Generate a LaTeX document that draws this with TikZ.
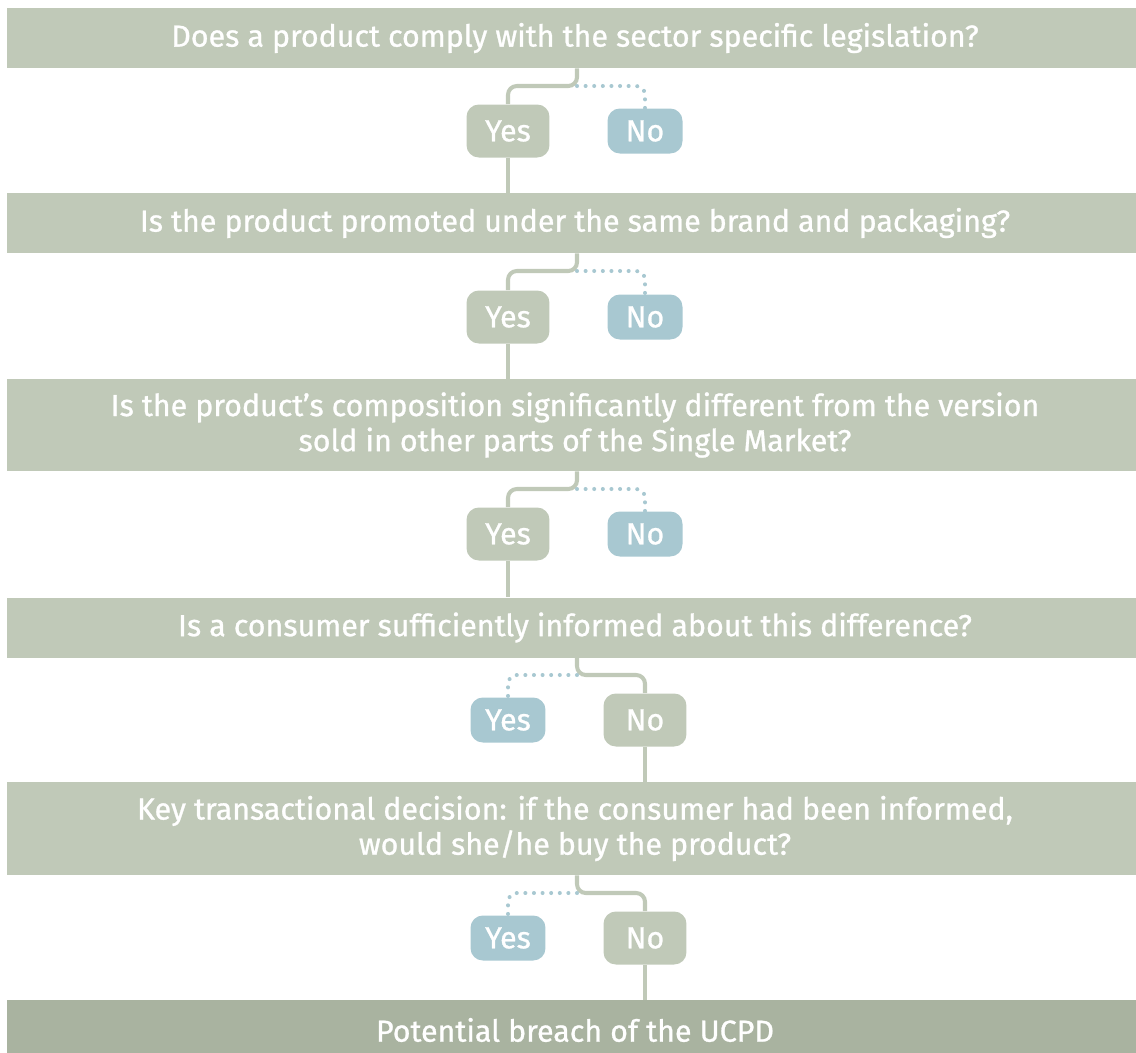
\documentclass[tikz,border=0pt]{standalone}
\usepackage{fontspec}
\setmainfont{Fira Sans}[FakeBold=0.9]
\usepackage{tikz}
\definecolor{sage}{HTML}{C0C9B8}
\definecolor{sagedark}{HTML}{A9B3A0}
\definecolor{mist}{HTML}{A8C8D1}

\begin{document}
\begin{tikzpicture}[x=0.02cm, y=-0.02cm,
    every node/.style={font=\fontsize{17.3}{20}\selectfont, text=white},
    bar/.style={fill=sage, minimum width=22.72cm, inner sep=0pt, align=center},
    pick/.style={fill=sage, rounded corners=7pt, minimum width=1.66cm, minimum height=1.06cm, inner sep=0pt},
    skip/.style={fill=mist, rounded corners=7pt, minimum width=1.5cm, minimum height=0.9cm, inner sep=0pt},
    solidline/.style={draw=sage, line width=2.3pt, rounded corners=5pt},
    dotline/.style={draw=mist, line width=2.3pt, line cap=round, dash pattern=on 0pt off 4.9pt, rounded corners=5pt}]
    \useasboundingbox (0,0) rectangle (1136,1052);

    % Questions - full width bars
    \node[bar, minimum height=1.2cm] (q1) at (575,38) {Does a product comply with the sector specific legislation?};
    \node[bar, minimum height=1.2cm] (q2) at (575,223) {Is the product promoted under the same brand and packaging?};
    \node[bar, minimum height=1.84cm] (q3) at (575,425) {Is the product’s composition significantly different from the version\\sold in other parts of the Single Market?};
    \node[bar, minimum height=1.2cm] (q4) at (575,627.5) {Is a consumer sufficiently informed about this difference?};
    \node[bar, minimum height=1.86cm] (q5) at (575,828.5) {Key transactional decision: if the consumer had been informed,\\would she/he buy the product?};
    \node[bar, fill=sagedark, minimum height=1.2cm] (res) at (575,1030) {Potential breach of the UCPD};

    % Answers - chosen answer green, other answer blue
    \node[pick] (y1) at (508,131) {Yes};
    \node[skip] (n1) at (645,131) {No};
    \node[pick] (y2) at (508,317) {Yes};
    \node[skip] (n2) at (645,317) {No};
    \node[pick] (y3) at (508,534) {Yes};
    \node[skip] (n3) at (645,534) {No};
    \node[skip] (y4) at (508,720) {Yes};
    \node[pick] (n4) at (645,720) {No};
    \node[skip] (y5) at (508,938) {Yes};
    \node[pick] (n5) at (645,938) {No};

    % Split points below each question
    \coordinate (s1) at (577,86);
    \coordinate (s2) at (577,271);
    \coordinate (s3) at (577,489);
    \coordinate (s4) at (577,675);
    \coordinate (s5) at (577,893);

    % Edges - question to answers
    \draw[solidline] (q1.south -| s1) -- (s1) -| (y1.north);
    \draw[dotline] (s1) -| (n1.north);
    \draw[solidline] (q2.south -| s2) -- (s2) -| (y2.north);
    \draw[dotline] (s2) -| (n2.north);
    \draw[solidline] (q3.south -| s3) -- (s3) -| (y3.north);
    \draw[dotline] (s3) -| (n3.north);
    \draw[solidline] (q4.south -| s4) -- (s4) -| (n4.north);
    \draw[dotline] (s4) -| (y4.north);
    \draw[solidline] (q5.south -| s5) -- (s5) -| (n5.north);
    \draw[dotline] (s5) -| (y5.north);

    % Edges - chosen answer to next question
    \draw[solidline] (y1.south) -- (y1.south |- q2.north);
    \draw[solidline] (y2.south) -- (y2.south |- q3.north);
    \draw[solidline] (y3.south) -- (y3.south |- q4.north);
    \draw[solidline] (n4.south) -- (n4.south |- q5.north);
    \draw[solidline] (n5.south) -- (n5.south |- res.north);
\end{tikzpicture}
\end{document}
